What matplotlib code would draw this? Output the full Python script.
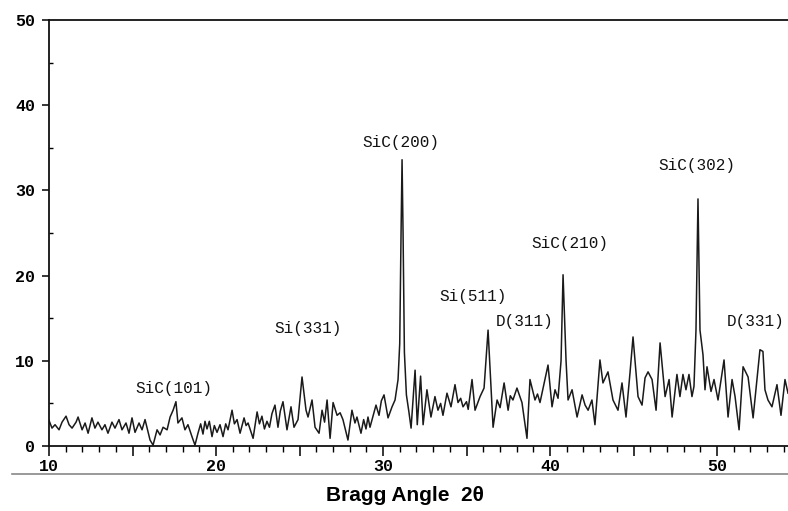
import numpy as np
import matplotlib.pyplot as plt
from matplotlib.ticker import MultipleLocator, FuncFormatter
from matplotlib.lines import Line2D

# =========================================================
# Data
# =========================================================
two_theta = [
    10.0, 10.18, 10.36, 10.6, 10.78, 11.02, 11.2, 11.38, 11.62, 11.74,
    11.98, 12.16, 12.34, 12.57, 12.75, 12.93, 13.17, 13.35, 13.53, 13.77,
    13.95, 14.19, 14.37, 14.61, 14.79, 14.97, 15.15, 15.39, 15.57, 15.75,
    16.05, 16.23, 16.47, 16.65, 16.83, 17.07, 17.25, 17.43, 17.6, 17.72,
    17.96, 18.14, 18.32, 18.56, 18.74, 18.92, 19.08, 19.22, 19.34, 19.46,
    19.6, 19.76, 19.9, 20.06, 20.24, 20.42, 20.58, 20.72, 20.96, 21.1,
    21.26, 21.44, 21.68, 21.8, 21.92, 22.22, 22.46, 22.6, 22.75, 22.9,
    23.05, 23.2, 23.35, 23.53, 23.71, 23.85, 24.01, 24.25, 24.49, 24.67,
    24.91, 25.15, 25.39, 25.51, 25.75, 25.93, 26.17, 26.35, 26.5, 26.65,
    26.83, 27.01, 27.25, 27.43, 27.6, 27.9, 28.14, 28.32, 28.44, 28.68,
    28.84, 28.98, 29.1, 29.22, 29.4, 29.58, 29.76, 29.9, 30.06, 30.3,
    30.54, 30.72, 30.9, 31.0, 31.08, 31.14, 31.2, 31.28, 31.4, 31.55,
    31.68, 31.92, 32.05, 32.25, 32.4, 32.63, 32.87, 33.11, 33.29, 33.45,
    33.59, 33.83, 34.07, 34.31, 34.49, 34.65, 34.79, 35.0, 35.1, 35.33,
    35.51, 35.81, 36.05, 36.29, 36.59, 36.83, 37.01, 37.25, 37.49, 37.62,
    37.78, 38.02, 38.32, 38.62, 38.8, 39.1, 39.25, 39.4, 39.88, 40.12,
    40.3, 40.48, 40.66, 40.78, 40.96, 41.08, 41.32, 41.62, 41.92, 42.1,
    42.28, 42.51, 42.69, 42.99, 43.17, 43.47, 43.77, 44.07, 44.31, 44.55,
    44.79, 44.97, 45.27, 45.51, 45.69, 45.87, 46.11, 46.35, 46.59, 46.89,
    47.13, 47.31, 47.6, 47.78, 47.96, 48.14, 48.32, 48.5, 48.62, 48.74,
    48.86, 48.98, 49.16, 49.28, 49.4, 49.64, 49.82, 50.06, 50.42, 50.66,
    50.9, 51.08, 51.32, 51.56, 51.86, 52.16, 52.57, 52.75, 52.87, 53.05,
    53.29, 53.59, 53.83, 54.07, 54.25,
]
intensity = [
    3.0, 2.1, 2.5, 1.9, 2.8, 3.5, 2.5, 2.1, 2.8, 3.4,
    1.9, 2.7, 1.5, 3.3, 2.1, 2.8, 1.9, 2.5, 1.5, 2.8,
    2.1, 3.1, 1.9, 2.7, 1.5, 3.3, 1.6, 2.7, 1.9, 3.1,
    0.7, 0.1, 1.9, 1.3, 2.2, 1.9, 3.4, 4.2, 5.2, 2.7,
    3.3, 1.9, 2.5, 1.1, 0.1, 1.5, 2.6, 1.4, 2.9, 2.0,
    2.9, 1.1, 2.4, 1.6, 2.5, 1.1, 2.6, 1.9, 4.2, 2.6,
    3.1, 1.5, 3.3, 2.4, 2.7, 0.9, 4.0, 2.6, 3.5, 2.0,
    2.9, 2.2, 3.8, 4.8, 2.2, 4.1, 5.2, 1.9, 4.6, 2.2,
    3.1, 8.1, 4.2, 3.4, 5.4, 2.2, 1.5, 4.2, 2.8, 5.4,
    0.9, 5.1, 3.6, 3.9, 3.1, 0.7, 4.2, 2.7, 3.4, 1.5,
    3.1, 2.0, 3.4, 2.2, 3.5, 4.8, 3.6, 5.3, 6.0, 3.3,
    4.6, 5.4, 7.8, 12.0, 25.0, 33.6, 25.0, 11.0, 6.0, 4.0,
    2.1, 8.9, 2.5, 8.2, 2.5, 6.6, 3.4, 5.8, 4.2, 5.0,
    3.6, 6.2, 4.6, 7.2, 5.1, 5.6, 4.6, 5.2, 4.3, 7.8,
    4.2, 5.8, 6.8, 13.6, 2.2, 5.4, 4.5, 7.4, 4.2, 5.9,
    5.4, 6.8, 5.1, 0.9, 7.8, 5.4, 6.1, 5.1, 9.5, 4.6,
    6.6, 5.6, 10.0, 20.1, 10.0, 5.4, 6.6, 3.4, 6.0, 4.8,
    4.2, 5.4, 2.5, 10.1, 7.4, 8.7, 5.4, 4.2, 7.4, 3.4,
    8.6, 12.8, 5.8, 4.8, 8.0, 8.7, 7.8, 4.2, 12.1, 5.8,
    7.8, 3.4, 8.4, 5.8, 8.4, 6.6, 8.4, 5.8, 7.0, 13.6,
    29.0, 13.6, 10.7, 6.6, 9.3, 6.4, 7.8, 5.4, 10.1, 3.4,
    7.8, 5.8, 1.9, 9.3, 8.1, 3.3, 11.3, 11.1, 6.6, 5.4,
    4.6, 7.2, 3.6, 7.8, 6.2,
]

peak_labels = ["SiC(101)", "Si(331)", "SiC(200)", "Si(511)",
               "D(311)", "SiC(210)", "SiC(302)", "D(331)"]
label_x = [17.5, 25.5, 31.1, 35.4, 38.5, 41.2, 48.8, 52.3]
label_y = [6.8, 13.8, 35.6, 17.6, 14.6, 23.8, 32.9, 14.6]

# =========================================================
# Plot
# =========================================================
fig = plt.figure(figsize=(7.88, 5.11), dpi=100)
ax = fig.add_axes([0.0622, 0.1272, 0.9378, 0.8337])

ax.plot(two_theta, intensity, color="#1a1a1a", lw=1.1)

ax.set_xlim(10, 54.25)
ax.set_ylim(0, 50)

for side in ["left", "bottom", "top"]:
    ax.spines[side].set_linewidth(1.3)
    ax.spines[side].set_color("#111111")
ax.spines["right"].set_visible(False)

ax.xaxis.set_major_locator(MultipleLocator(5))
ax.xaxis.set_minor_locator(MultipleLocator(1))
ax.xaxis.set_major_formatter(FuncFormatter(lambda v, p: f"{v:.0f}" if v % 10 == 0 else ""))
ax.yaxis.set_major_locator(MultipleLocator(10))
ax.yaxis.set_minor_locator(MultipleLocator(5))

ax.tick_params(axis="x", which="major", direction="out", length=7, width=1.1, pad=2)
ax.tick_params(axis="x", which="minor", direction="out", length=4, width=1.0)
ax.tick_params(axis="y", which="major", direction="out", length=5, width=1.1, pad=5)
ax.tick_params(axis="y", which="minor", direction="in", length=3, width=1.0)
ax.tick_params(top=False, right=False, which="both")

for lab in ax.get_xticklabels() + ax.get_yticklabels():
    lab.set_family("Liberation Mono")
    lab.set_fontweight("bold")
    lab.set_fontsize(12)

for text, x, y in zip(peak_labels, label_x, label_y):
    ax.text(x, y, text, ha="center", va="center", family="Liberation Mono",
            fontsize=11.5, color="#111111")

fig.text(0.514, 0.031, "Bragg Angle  2θ", ha="center", va="center",
         family="Liberation Sans", fontweight="bold", fontsize=15)

# faint scan line below the tick labels
fig.add_artist(Line2D([0.015, 1.0], [0.072, 0.072], color="#888888", lw=1.2,
                      transform=fig.transFigure))

plt.savefig("out.png", dpi=100)
